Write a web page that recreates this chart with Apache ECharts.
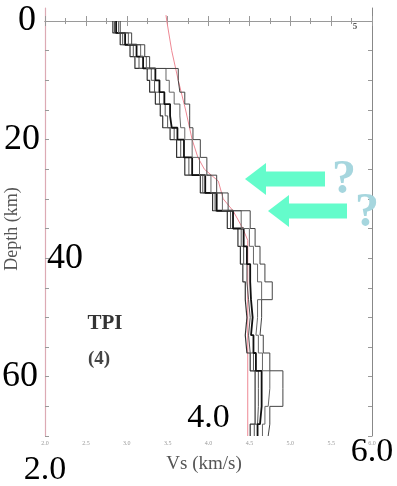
<!DOCTYPE html>
<html><head><meta charset="utf-8">
<script src="https://cdn.jsdelivr.net/npm/echarts@6/dist/echarts.min.js"></script>
<style>html,body{margin:0;padding:0;background:#fff}#c{width:397px;height:486px}</style>
</head><body><div id="c"></div>
<script>
// ---- data ----
const layerTops    = [0,2,4,6,8,10,12,14,16,18,20,23,26,29,32,35,38,41,44,47,50,53,56,59,62,65,68];
const layerBottoms = [2,4,6,8,10,12,14,16,18,20,23,26,29,32,35,38,41,44,47,50,53,56,59,62,65,68,70];
const profileA = [2.83,2.92,3.04,3.10,3.25,3.28,3.35,3.41,3.44,3.53,3.61,3.71,3.90,4.05,4.23,4.36,4.39,4.42,4.45,4.47,4.45,4.47,4.51,4.57,4.57,4.57,4.51];
const profileB = [2.85,2.95,3.08,3.15,3.30,3.34,3.40,3.47,3.50,3.58,3.66,3.76,3.93,4.08,4.27,4.40,4.43,4.47,4.49,4.51,4.49,4.51,4.55,4.61,4.61,4.60,4.56];
const profileC = [2.87,2.98,3.12,3.20,3.35,3.40,3.46,3.53,3.55,3.62,3.70,3.80,3.96,4.10,4.30,4.43,4.47,4.51,4.52,4.54,4.52,4.55,4.58,4.65,4.65,4.63,4.60];
const profileD = [2.90,3.02,3.17,3.24,3.48,3.52,3.58,3.65,3.66,3.71,3.80,3.89,4.03,4.17,4.40,4.50,4.55,4.60,4.65,4.60,4.58,4.61,4.66,4.75,4.73,4.69,4.66];
const profileE = [2.92,3.06,3.22,3.28,3.63,3.65,3.71,3.77,3.77,3.81,3.90,3.98,4.10,4.24,4.51,4.57,4.63,4.69,4.78,4.65,4.63,4.67,4.75,4.91,4.91,4.75,4.73];
const refDepth = [-1,0,5,10,15,20,23,25,27,30,32,35,37,70];
const refVs    = [3.48,3.49,3.55,3.63,3.72,3.80,3.87,3.95,4.12,4.18,4.30,4.42,4.48,4.48];
const xTickLabels = ['2.0','2.5','3.0','3.5','4.0','4.5','5.0','5.5','6.0'];
const depthTicks = [0,5,10,15,20,25,30,35,40,45,50,55,60,65,70];
const bigYLabels = ['0','20','40','60'];
const bigXLabels = ['2.0','4.0','6.0'];
const panelTitle = 'TPI';
const panelSub = '(4)';

// ---- chart ----
function stepData(vs){
  const out=[];
  for(let i=0;i<vs.length;i++){ out.push([vs[i],layerTops[i]]); out.push([vs[i],layerBottoms[i]]); }
  return out;
}
const chart = echarts.init(document.getElementById('c'),null,{renderer:'canvas'});
const profiles = [
  {d:profileA,c:'#333',w:1.2},
  {d:profileB,c:'#555',w:1},
  {d:profileC,c:'#111',w:1.8},
  {d:profileD,c:'#666',w:1},
  {d:profileE,c:'#444',w:1}
];
const serif = '"Liberation Serif","DejaVu Serif",serif';
const xCommon = {type:'value',min:2,max:6,interval:0.5,splitLine:{show:false},
  minorTick:{show:true,splitNumber:2,length:3,lineStyle:{color:'#999'}},
  axisTick:{inside:true,length:5,lineStyle:{color:'#999'}}};
const yCommon = {type:'value',inverse:true,min:-2.2,max:70,splitLine:{show:false},
  axisTick:{inside:true,length:4,customValues:depthTicks,lineStyle:{color:'#999'}},
  axisLabel:{show:false}};
chart.setOption({
  animation:false,
  backgroundColor:'#fff',
  grid:{left:45,right:25,top:8,bottom:50},
  xAxis:[
    Object.assign({},xCommon,{position:'bottom',
      axisLine:{lineStyle:{color:'#a88890',width:1.2}},
      axisLabel:{fontSize:6,color:'#999',margin:4,fontFamily:serif,formatter:(v)=>xTickLabels[Math.round((v-2)/0.5)]||''}}),
    Object.assign({},xCommon,{position:'top',axisLine:{lineStyle:{color:'#9a9a9a'}},axisLabel:{show:false}})
  ],
  yAxis:[
    Object.assign({},yCommon,{position:'left',axisLine:{lineStyle:{color:'#dcaab4',width:1.2}}}),
    Object.assign({},yCommon,{position:'right',axisLine:{lineStyle:{color:'#888'}}})
  ],
  series:[
    {type:'line',data:refDepth.map((d,i)=>[refVs[i],d]),showSymbol:false,
     lineStyle:{color:'#ee8894',width:1},z:1}
  ].concat(profiles.map(p=>({type:'line',data:stepData(p.d),showSymbol:false,
     lineStyle:{color:p.c,width:p.w},z:2})))
});

// big annotation labels placed through the axis scales
const g=[];
const yPos = v=>chart.convertToPixel({yAxisIndex:0},v);
const xPos = v=>chart.convertToPixel({xAxisIndex:0},v);
const yOff = [{x:36,align:'right'},{x:40,align:'right'},{x:47,align:'left'},{x:38,align:'right'}];
bigYLabels.forEach((t,i)=>{
  g.push({type:'text',x:yOff[i].x,y:yPos(Number(t)),style:{text:t,font:'36px '+serif,fill:'#000',align:yOff[i].align,verticalAlign:'middle'}});
});
const xY=[470,418,452];
bigXLabels.forEach((t,i)=>{
  g.push({type:'text',x:xPos(Number(t)),y:xY[i],style:{text:t,font:'34px '+serif,fill:'#000',align:'center',verticalAlign:'middle'}});
});
// axis titles
g.push({type:'text',x:12,y:229,rotation:Math.PI/2,style:{text:'Depth (km)',font:'18px '+serif,fill:'#555',align:'center',verticalAlign:'middle'}});
g.push({type:'text',x:204,y:464,style:{text:'Vs (km/s)',font:'19px '+serif,fill:'#555',align:'center',verticalAlign:'middle'}});
g.push({type:'text',x:105,y:324,style:{text:panelTitle,font:'bold 21px '+serif,fill:'#333',align:'center',verticalAlign:'middle'}});
g.push({type:'text',x:99,y:359,style:{text:panelSub,font:'bold 19px '+serif,fill:'#444',align:'center',verticalAlign:'middle'}});
g.push({type:'text',x:355,y:27,style:{text:'5',font:'bold 9px '+serif,fill:'#555',align:'center',verticalAlign:'middle'}});
// arrows
function arrow(tip,tail,cy,headBase){
  return {type:'polygon',shape:{points:[[tip,cy],[headBase,cy-16],[headBase,cy-7.5],[tail,cy-7.5],[tail,cy+7.5],[headBase,cy+7.5],[headBase,cy+16]]},
    style:{fill:'#64fccb'},z:10};
}
g.push(arrow(245,325,179,266));
g.push(arrow(268,347,211,289));
// question marks
g.push({type:'text',x:344,y:181,z:11,style:{text:'?',font:'bold 48px '+serif,fill:'#a6d6de',align:'center',verticalAlign:'middle'}});
g.push({type:'text',x:367,y:214,z:11,style:{text:'?',font:'bold 48px '+serif,fill:'#a6d6de',align:'center',verticalAlign:'middle'}});
chart.setOption({graphic:{elements:g}});
</script></body></html>
